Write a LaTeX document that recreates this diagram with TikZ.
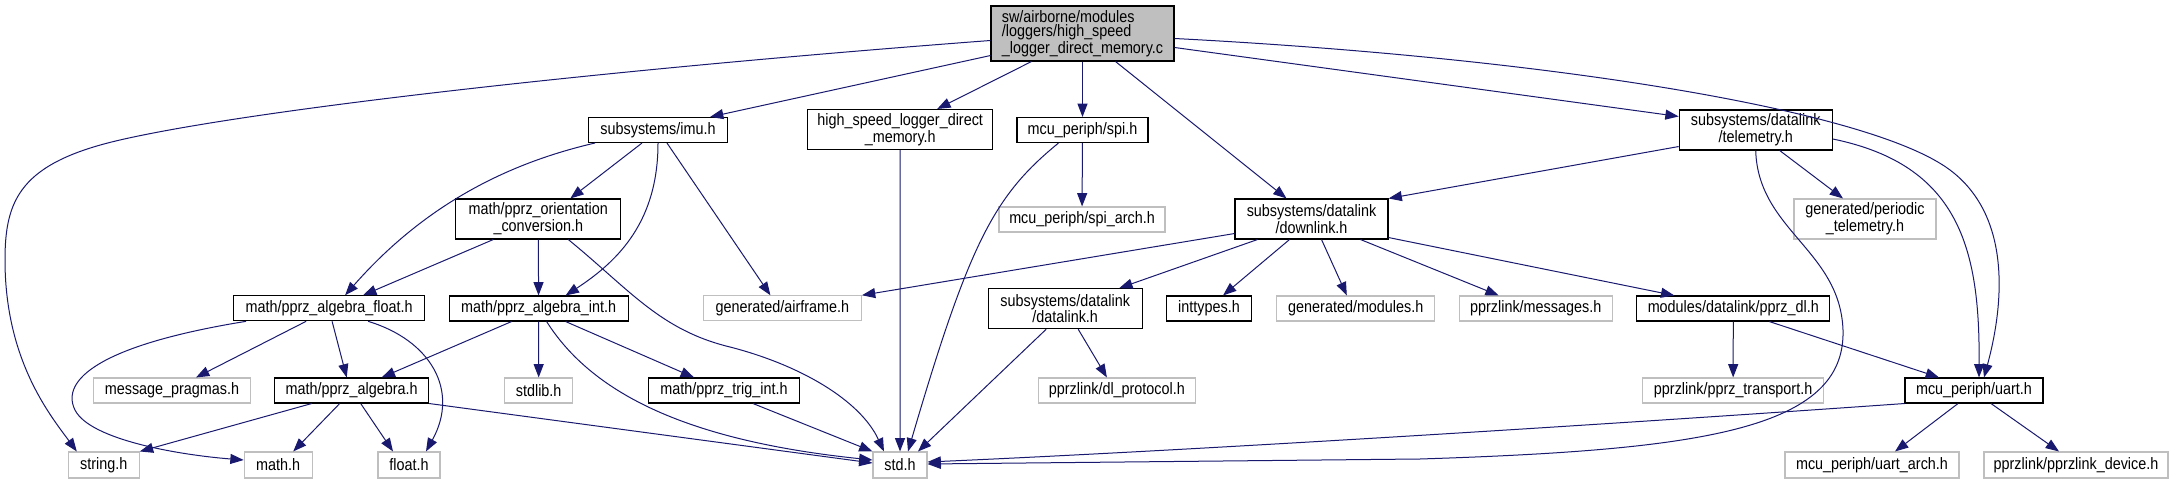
\documentclass[tikz,border=0pt]{standalone}
\usepackage{fontspec}
\setmainfont{Liberation Sans}[FakeStretch=0.87]
\usetikzlibrary{arrows.meta,calc}
\definecolor{cedge}{HTML}{191970}
\definecolor{cgray}{HTML}{BFBFBF}

\begin{document}
\begin{tikzpicture}[x=0.75pt,y=-0.75pt,>={Triangle[length=10pt,width=7.5pt]},
  box/.style={draw=black,line width=0.8pt,align=center,inner xsep=6pt,inner ysep=0pt,
              minimum height=18.75pt,font=\fontsize{12.4}{10.5}\selectfont},
  doc/.style={box}, ext/.style={box,draw=cgray},
  two/.style={minimum height=30pt}, wd/.style={minimum width=#1*0.75pt},
  dep/.style={->,draw=cedge,line width=0.75pt}]
\useasboundingbox[fill=white] (0,0) rectangle (2173,484);
\node[doc,fill=cgray,align=left,wd=183,minimum height=41.25pt] (main) at (1082.5,33.5)
  {sw/airborne/modules\\/loggers/high\_speed\\\_logger\_direct\_memory.c};
\node[doc,wd=139] (imu) at (658,130) {subsystems/imu.h};
\node[doc,two,wd=185] (hsldm) at (900.2,129.5) {high\_speed\_logger\_direct\\\_memory.h};
\node[doc,wd=131] (spi) at (1082.5,130) {mcu\_periph/spi.h};
\node[doc,two,wd=153] (telemetry) at (1755.7,130) {subsystems/datalink\\/telemetry.h};
\node[doc,two,wd=165] (orient) at (538.3,219) {math/pprz\_orientation\\\_conversion.h};
\node[ext,wd=166] (spiarch) at (1082,219.5) {mcu\_periph/spi\_arch.h};
\node[doc,two,wd=153] (downlink) at (1311.5,219) {subsystems/datalink\\/downlink.h};
\node[ext,two,wd=142] (periodic) at (1865,219) {generated/periodic\\\_telemetry.h};
\node[doc,wd=191] (afloat) at (329.1,308.3) {math/pprz\_algebra\_float.h};
\node[doc,wd=179] (aint) at (538.6,308.5) {math/pprz\_algebra\_int.h};
\node[ext,wd=158] (airframe) at (782.4,308.3) {generated/airframe.h};
\node[doc,two,wd=154] (datalink) at (1065.2,308.7) {subsystems/datalink\\/datalink.h};
\node[doc,wd=85] (inttypes) at (1209,308.5) {inttypes.h};
\node[ext,wd=158] (modules) at (1355.8,308.5) {generated/modules.h};
\node[ext,wd=153] (messages) at (1535.7,308.5) {pprzlink/messages.h};
\node[doc,wd=193] (ppdl) at (1733.3,308.5) {modules/datalink/pprz\_dl.h};
\node[ext,wd=157] (pragmas) at (172,390.5) {message\_pragmas.h};
\node[doc,wd=154] (algebra) at (351.7,390.5) {math/pprz\_algebra.h};
\node[ext,wd=68] (stdlib) at (538.7,390.5) {stdlib.h};
\node[doc,wd=151] (trigint) at (724,390.5) {math/pprz\_trig\_int.h};
\node[ext,wd=157] (dlproto) at (1116.9,390.5) {pprzlink/dl\_protocol.h};
\node[ext,wd=181] (transport) at (1733.1,390.5) {pprzlink/pprz\_transport.h};
\node[doc,wd=138] (uart) at (1974,390.5) {mcu\_periph/uart.h};
\node[ext,wd=71,minimum height=19.5pt] (stringh) at (103.8,465) {string.h};
\node[ext,wd=68,minimum height=19.5pt] (mathh) at (278.2,465) {math.h};
\node[ext,wd=62,minimum height=19.5pt] (floath) at (409,465) {float.h};
\node[ext,wd=54,minimum height=19.5pt] (stdh) at (900,465) {std.h};
\node[ext,wd=174,minimum height=19.5pt] (uartarch) at (1872,465) {mcu\_periph/uart\_arch.h};
\node[ext,wd=184,minimum height=19.5pt] (device) at (2076,465) {pprzlink/pprzlink\_device.h};

\draw[dep] ($(main.west)+(0,7)$) .. controls (600,70) and (250,110) .. (120,140)
  .. controls (20,163) and (5,200) .. (5,260) .. controls (5,360) and (50,415) .. ($(stringh.north)+(-27,0)$);
\draw[dep] ($(main.south west)+(0,-6)$) -- ($(imu.north east)+(-18,0)$);
\draw[dep] ($(main.south)+(-51,0)$) -- ($(hsldm.north)+(37,0)$);
\draw[dep] (main) -- (spi);
\draw[dep] ($(main.south)+(33,0)$) -- ($(downlink.north)+(-25,0)$);
\draw[dep] ($(main.east)+(0,14)$) -- ($(telemetry.north west)+(0,7)$);
\draw[dep] ($(main.east)+(0,5)$) .. controls (1550,58) and (1870,110) .. (1950,170)
  .. controls (2010,215) and (2005,300) .. ($(uart.north)+(10,0)$);
\draw[dep] ($(imu.south west)+(7,0)$) .. controls (500,165) and (420,210) .. ($(afloat.north)+(16,0)$);
\draw[dep] ($(imu.south)+(-16,0)$) -- ($(orient.north)+(32,0)$);
\draw[dep] (imu.south) .. controls (658,220) and (620,260) .. ($(aint.north)+(27,0)$);
\draw[dep] ($(imu.south)+(9,0)$) -- ($(airframe.north)+(-12,0)$);
\draw[dep] ($(orient.south)+(-45,0)$) -- ($(afloat.north)+(34,0)$);
\draw[dep] (orient) -- (aint);
\draw[dep] ($(orient.south)+(30,0)$) .. controls (630,290) and (660,330) .. (730,347)
  .. controls (800,365) and (860,400) .. ($(stdh.north)+(-16,0)$);
\draw[dep] ($(afloat.south west)+(13,0)$) .. controls (100,345) and (60,380) .. (75,410)
  .. controls (90,440) and (180,455) .. ($(mathh.west)+(0,-5)$);
\draw[dep] ($(afloat.south)+(-23,0)$) -- ($(pragmas.north)+(24,0)$);
\draw[dep] ($(afloat.south)+(3,0)$) -- ($(algebra.north)+(-5,0)$);
\draw[dep] ($(afloat.south)+(39,0)$) .. controls (430,340) and (460,390) .. ($(floath.north)+(17,0)$);
\draw[dep] ($(aint.south)+(-27,0)$) -- ($(algebra.north)+(30,0)$);
\draw[dep] (aint) -- (stdlib);
\draw[dep] ($(aint.south)+(8,0)$) .. controls (590,390) and (680,440) .. ($(stdh.west)+(0,-5)$);
\draw[dep] ($(aint.south)+(27,0)$) -- ($(trigint.north)+(-30,0)$);
\draw[dep] ($(algebra.south)+(-40,0)$) -- (stringh.north east);
\draw[dep] ($(algebra.south)+(-12,0)$) -- ($(mathh.north)+(15,0)$);
\draw[dep] ($(algebra.south)+(9,0)$) -- ($(floath.north)+(-16,0)$);
\draw[dep] (algebra.south east) -- ($(stdh.west)+(0,-2)$);
\draw[dep] ($(trigint.south)+(29,0)$) -- (stdh.north west);
\draw[dep] (hsldm) -- (stdh);
\draw[dep] (spi) -- (spiarch);
\draw[dep] ($(spi.south)+(-24,0)$) .. controls (995,195) and (970,240) .. ($(stdh.north)+(8,0)$);
\draw[dep] ($(downlink.south west)+(0,-6)$) -- (airframe.north east);
\draw[dep] ($(downlink.south)+(-54,0)$) -- ($(datalink.north)+(54,0)$);
\draw[dep] ($(downlink.south)+(-22,0)$) -- ($(inttypes.north)+(14,0)$);
\draw[dep] ($(downlink.south)+(10,0)$) -- ($(modules.north)+(-9,0)$);
\draw[dep] ($(downlink.south)+(49,0)$) -- ($(messages.north)+(-37,0)$);
\draw[dep] ($(downlink.south east)+(0,-2)$) -- ($(ppdl.north)+(-59,0)$);
\draw[dep] ($(telemetry.south west)+(0,-4)$) -- (downlink.north east);
\draw[dep] ($(telemetry.south)+(24,0)$) -- ($(periodic.north)+(-22,0)$);
\draw[dep] (telemetry.south) .. controls (1758,230) and (1840,250) .. (1843,330)
  .. controls (1846,430) and (1700,450) .. (1420,459) -- ($(stdh.east)+(0,-1)$);
\draw[dep] ($(telemetry.east)+(0,9)$) .. controls (1960,165) and (1980,250) .. ($(uart.north)+(5,0)$);
\draw[dep] (ppdl) -- (transport);
\draw[dep] ($(ppdl.south)+(36,0)$) -- ($(uart.north)+(-35,0)$);
\draw[dep] (uart.south west) .. controls (1600,425) and (1200,450) .. ($(stdh.east)+(0,-3)$);
\draw[dep] ($(uart.south)+(-16,0)$) -- ($(uartarch.north)+(23,0)$);
\draw[dep] ($(uart.south)+(17,0)$) -- ($(device.north)+(-17,0)$);
\draw[dep] ($(datalink.south)+(-19,0)$) -- ($(stdh.north)+(18,0)$);
\draw[dep] ($(datalink.south)+(13,0)$) -- ($(dlproto.north)+(-10,0)$);
\end{tikzpicture}
\end{document}
